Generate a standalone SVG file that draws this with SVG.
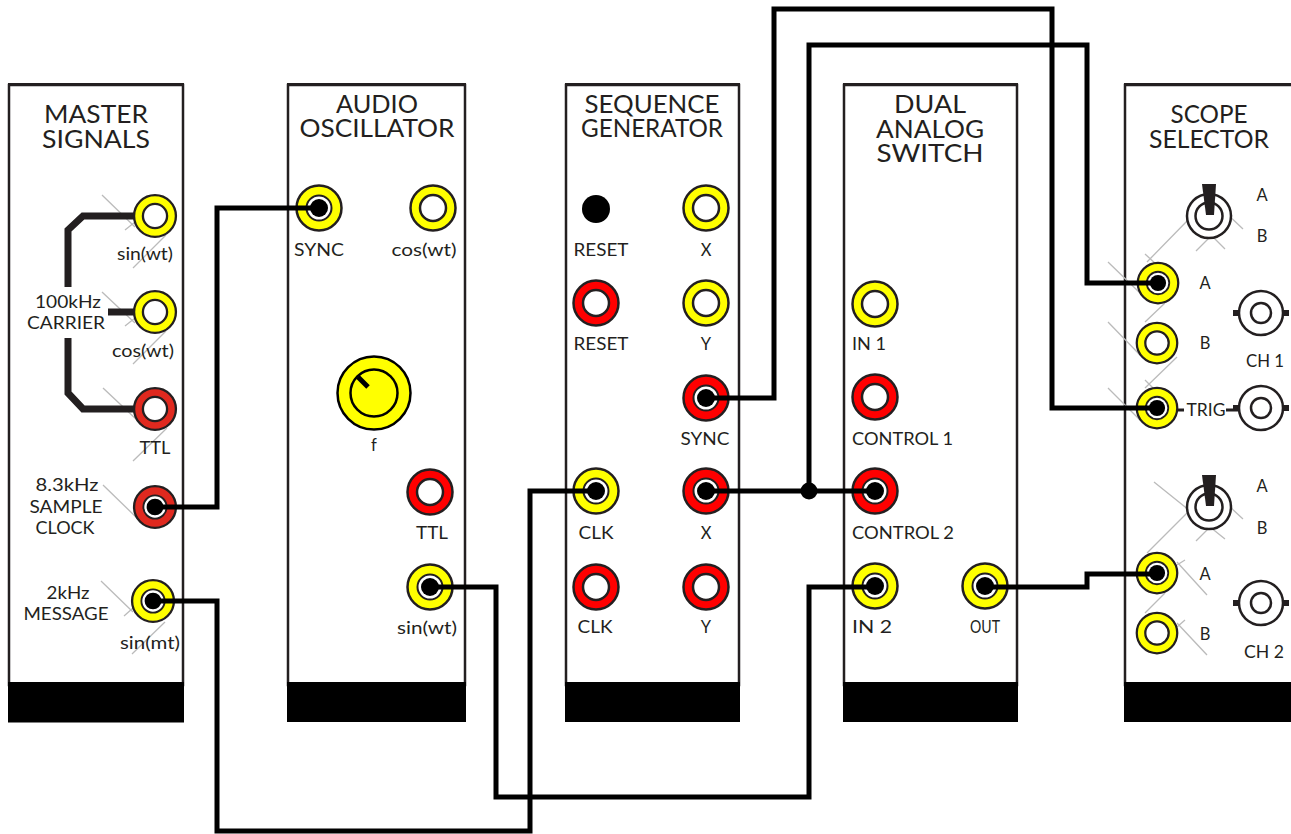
<svg xmlns="http://www.w3.org/2000/svg" width="1291" height="834" viewBox="0 0 1291 834">
<style>
text{font-family:"Lato","Liberation Sans",sans-serif;font-weight:400;fill:#231f20;text-anchor:middle}
.t{font-size:25px}
.l{font-size:16.500px}
.p{fill:#fff;stroke:#231f20;stroke-width:2.500}
.top{stroke:#231f20;stroke-width:3;fill:none}
.f{fill:#000}
.g{stroke:#bbb;stroke-width:1.3;fill:none}
.w{stroke:#000;stroke-width:5;fill:none;stroke-linejoin:miter}
.c{stroke:#231f20;stroke-width:7;fill:none;stroke-linejoin:miter}
.o{fill:#fff;stroke:#231f20;stroke-width:2.500}
</style>
<defs>
<g id="j"><circle r="22.500" stroke="#231f20" stroke-width="2.500"/><circle r="13" fill="#fff" stroke="#231f20" stroke-width="2.500"/></g>
<g id="q"><circle r="22.500" stroke="#231f20" stroke-width="2.500"/><circle r="12.500" fill="#fff" stroke="#231f20" stroke-width="2"/><circle r="9" fill="#000"/></g>
<g id="b"><rect x="-28" y="-3" width="6" height="6" fill="#231f20"/><rect x="22" y="-3" width="6" height="6" fill="#231f20"/><circle r="22" class="o"/><circle r="10" class="o"/></g>
<g id="s"><circle r="22" class="o"/><circle r="13.500" class="o"/><polygon points="-7,-32 7,-32 5,-1 -3,-1" fill="#231f20"/></g>
</defs>

<g id="master-signals">
<rect class="p" x="9" y="85" width="174" height="600"/>
<path class="top" d="M8 84.500H184"/>
<rect class="f" x="8" y="682" width="176" height="40.500"/>
<path class="g" d="M102 195L135 227M125 230L135 222M133 268L166 235M102 292L135 323M125 326L135 318M133 364L166 331M103 388L137 420M133 461L167 428M103 485L137 518M101 581L133 612M124 616L133 608M132 654L165 622"/>
<path class="c" d="M135 216H83L68 230V287M68 338V393L83 409H135M108 312H135"/>
<use href="#j" fill="#ff0" transform="translate(155 216) scale(.93)"/>
<use href="#j" fill="#ff0" transform="translate(155 312) scale(.93)"/>
<use href="#j" fill="#e0291f" transform="translate(155 409) scale(.93)"/>
<use href="#q" fill="#e0291f" transform="translate(155 507) scale(.93)"/>
<use href="#q" fill="#ff0" transform="translate(153 601) scale(.93)"/>
<text class="t" x="96" y="123" textLength="104" lengthAdjust="spacingAndGlyphs">MASTER</text>
<text class="t" x="96" y="148" textLength="108" lengthAdjust="spacingAndGlyphs">SIGNALS</text>
<text class="l" x="145" y="260" textLength="56" lengthAdjust="spacingAndGlyphs">sin(wt)</text>
<text class="l" x="68" y="308" textLength="66" lengthAdjust="spacingAndGlyphs">100kHz</text>
<text class="l" x="66" y="329" textLength="78" lengthAdjust="spacingAndGlyphs">CARRIER</text>
<text class="l" x="143" y="357" textLength="62" lengthAdjust="spacingAndGlyphs">cos(wt)</text>
<text class="l" x="155" y="454" textLength="31" lengthAdjust="spacingAndGlyphs">TTL</text>
<text class="l" x="67" y="491" textLength="63" lengthAdjust="spacingAndGlyphs">8.3kHz</text>
<text class="l" x="66" y="513" textLength="73" lengthAdjust="spacingAndGlyphs">SAMPLE</text>
<text class="l" x="65" y="534" textLength="59" lengthAdjust="spacingAndGlyphs">CLOCK</text>
<text class="l" x="68" y="599" textLength="43" lengthAdjust="spacingAndGlyphs">2kHz</text>
<text class="l" x="66" y="620" textLength="85" lengthAdjust="spacingAndGlyphs">MESSAGE</text>
<text class="l" x="150" y="649" textLength="60" lengthAdjust="spacingAndGlyphs">sin(mt)</text>
</g>

<g id="audio-oscillator">
<rect class="p" x="288" y="85" width="177" height="600"/>
<path class="top" d="M287 84.500H466"/>
<rect class="f" x="287" y="682" width="179" height="40"/>
<use href="#q" fill="#ff0" transform="translate(319 208)"/>
<use href="#j" fill="#ff0" transform="translate(433 208)"/>
<use href="#j" fill="#f00" transform="translate(430 492)"/>
<use href="#q" fill="#ff0" transform="translate(430 587)"/>
<circle cx="374" cy="393" r="36.500" fill="#ff0" stroke="#000" stroke-width="2.500"/>
<circle cx="374" cy="393" r="23.500" fill="#ff0" stroke="#000" stroke-width="2.500"/>
<path d="M358 377L368 387" stroke="#000" stroke-width="5"/>
<text class="t" x="377" y="113" textLength="82" lengthAdjust="spacingAndGlyphs">AUDIO</text>
<text class="t" x="377" y="137" textLength="155" lengthAdjust="spacingAndGlyphs">OSCILLATOR</text>
<text class="l" x="319" y="256" textLength="50" lengthAdjust="spacingAndGlyphs">SYNC</text>
<text class="l" x="424" y="256" textLength="65" lengthAdjust="spacingAndGlyphs">cos(wt)</text>
<text class="l" x="374" y="451">f</text>
<text class="l" x="432" y="539" textLength="32" lengthAdjust="spacingAndGlyphs">TTL</text>
<text class="l" x="427" y="634" textLength="60" lengthAdjust="spacingAndGlyphs">sin(wt)</text>
</g>

<g id="sequence-generator">
<rect class="p" x="566" y="85" width="173" height="600"/>
<path class="top" d="M565 84.500H740"/>
<rect class="f" x="565" y="682" width="175" height="40"/>
<circle cx="596" cy="209" r="14" fill="#000"/>
<use href="#j" fill="#ff0" transform="translate(706 208)"/>
<use href="#j" fill="#f00" transform="translate(596 303)"/>
<use href="#j" fill="#ff0" transform="translate(706 303)"/>
<use href="#q" fill="#f00" transform="translate(706 398)"/>
<use href="#q" fill="#ff0" transform="translate(596 491)"/>
<use href="#q" fill="#f00" transform="translate(706 491)"/>
<use href="#j" fill="#f00" transform="translate(596 587)"/>
<use href="#j" fill="#f00" transform="translate(706 587)"/>
<text class="t" x="652" y="113" textLength="135" lengthAdjust="spacingAndGlyphs">SEQUENCE</text>
<text class="t" x="652" y="137" textLength="142" lengthAdjust="spacingAndGlyphs">GENERATOR</text>
<text class="l" x="601" y="256" textLength="55" lengthAdjust="spacingAndGlyphs">RESET</text>
<text class="l" x="706" y="256">X</text>
<text class="l" x="601" y="350" textLength="55" lengthAdjust="spacingAndGlyphs">RESET</text>
<text class="l" x="706" y="350">Y</text>
<text class="l" x="705" y="445" textLength="49" lengthAdjust="spacingAndGlyphs">SYNC</text>
<text class="l" x="596" y="539" textLength="35" lengthAdjust="spacingAndGlyphs">CLK</text>
<text class="l" x="706" y="539">X</text>
<text class="l" x="595" y="633" textLength="35" lengthAdjust="spacingAndGlyphs">CLK</text>
<text class="l" x="706" y="633">Y</text>
</g>

<g id="dual-analog-switch">
<rect class="p" x="844" y="85" width="173" height="600"/>
<path class="top" d="M843 84.500H1018"/>
<rect class="f" x="843" y="682" width="175" height="40"/>
<use href="#j" fill="#ff0" transform="translate(875 304)"/>
<use href="#j" fill="#f00" transform="translate(875 397)"/>
<use href="#q" fill="#f00" transform="translate(875 491)"/>
<use href="#q" fill="#ff0" transform="translate(875 586)"/>
<use href="#q" fill="#ff0" transform="translate(985 586)"/>
<text class="t" x="930" y="113" textLength="72" lengthAdjust="spacingAndGlyphs">DUAL</text>
<text class="t" x="930" y="138" textLength="108" lengthAdjust="spacingAndGlyphs">ANALOG</text>
<text class="t" x="930" y="162" textLength="107" lengthAdjust="spacingAndGlyphs">SWITCH</text>
<text class="l" x="869" y="350" textLength="34" lengthAdjust="spacingAndGlyphs">IN 1</text>
<text class="l" x="902.500" y="445" textLength="101" lengthAdjust="spacingAndGlyphs">CONTROL 1</text>
<text class="l" x="903" y="539" textLength="102" lengthAdjust="spacingAndGlyphs">CONTROL 2</text>
<text class="l" x="872" y="633" textLength="40" lengthAdjust="spacingAndGlyphs">IN 2</text>
<text class="l" x="985" y="633" textLength="30" lengthAdjust="spacingAndGlyphs">OUT</text>
</g>

<g id="scope-selector">
<rect class="p" x="1125" y="85" width="170" height="600"/>
<path class="top" d="M1124 84.500H1291"/>
<rect class="f" x="1124" y="682" width="170" height="40"/>
<path class="g" d="M1108 262L1140 293M1145 254L1157 265M1147 262L1188 220M1196 251L1232 215M1225 249L1190 214M1243 229L1223 210M1108 322L1140 355M1145 322L1165 303M1108 388L1140 420M1145 388L1177 357M1145 380L1153 388M1154 482L1225 539M1147 553L1187 513M1196 541L1232 505M1243 519L1230 507M1177 562L1207 595M1177 565L1185 560M1145 613L1165 593M1177 623L1207 655M1177 627L1185 620"/>
<path d="M1177 410H1184M1226 410H1240" stroke="#231f20" stroke-width="3" fill="none"/>
<use href="#q" fill="#ff0" transform="translate(1158 283) scale(.9)"/>
<use href="#j" fill="#ff0" transform="translate(1157 343) scale(.9)"/>
<use href="#q" fill="#ff0" transform="translate(1157 408) scale(.9)"/>
<use href="#q" fill="#ff0" transform="translate(1157 573) scale(.9)"/>
<use href="#j" fill="#ff0" transform="translate(1157 633) scale(.9)"/>
<use href="#s" transform="translate(1209 216)"/>
<use href="#s" transform="translate(1209 507)"/>
<use href="#b" transform="translate(1261 313)"/>
<use href="#b" transform="translate(1261 408)"/>
<use href="#b" transform="translate(1261 603)"/>
<text class="t" x="1209" y="123" textLength="77" lengthAdjust="spacingAndGlyphs">SCOPE</text>
<text class="t" x="1209" y="148" textLength="120" lengthAdjust="spacingAndGlyphs">SELECTOR</text>
<text class="l" x="1262" y="201">A</text>
<text class="l" x="1262" y="242">B</text>
<text class="l" x="1205" y="289">A</text>
<text class="l" x="1205" y="349">B</text>
<text class="l" x="1265" y="367" textLength="38" lengthAdjust="spacingAndGlyphs">CH 1</text>
<text class="l" x="1206" y="416" textLength="39" lengthAdjust="spacingAndGlyphs">TRIG</text>
<text class="l" x="1262" y="492">A</text>
<text class="l" x="1262" y="534">B</text>
<text class="l" x="1205" y="580">A</text>
<text class="l" x="1205" y="640">B</text>
<text class="l" x="1264" y="658" textLength="40" lengthAdjust="spacingAndGlyphs">CH 2</text>
</g>

<g id="connectors">
<path class="w" d="M155 507H217V208H319"/>
<path class="w" d="M153 601H217V831H530V491H596"/>
<path class="w" d="M430 587H496V797H809V587H875"/>
<path class="w" d="M706 398H774V9H1052V408H1157"/>
<path class="w" d="M706 491H875"/>
<path class="w" d="M809 491V45H1087V283H1158"/>
<path class="w" d="M985 587H1087V574H1157"/>
<circle cx="809" cy="491" r="8.500" fill="#000"/>
</g>
</svg>
